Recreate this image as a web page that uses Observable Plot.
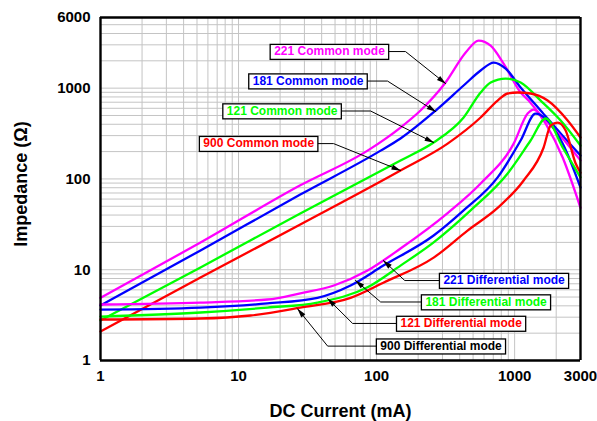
<!DOCTYPE html>
<html><head><meta charset="utf-8">
<script src="https://cdn.jsdelivr.net/npm/d3@7"></script>
<script src="https://cdn.jsdelivr.net/npm/@observablehq/plot@0.6"></script>
<style>body{margin:0;background:#fff;}</style>
</head><body><div id="chart"></div>
<script>
const FONT = "'Liberation Sans', Arial, Helvetica, sans-serif";

// Axis ticks and grid values
const xTicks = [1, 10, 100, 1000, 3000];
const yTicks = [1, 10, 100, 1000, 6000];
const xGrid = [1,2,3,4,5,6,7,8,9,10,20,30,40,50,60,70,80,90,100,200,300,400,500,600,700,800,900,1000,2000,3000];
const yGrid = [1,2,3,4,5,6,7,8,9,10,20,30,40,50,60,70,80,90,100,200,300,400,500,600,700,800,900,1000,2000,3000,4000,5000,6000];

// Common mode curves (x: DC current mA, y: impedance Ω)
const cm221X = [1, 5.3, 28, 86, 149, 208, 316, 442, 548, 670, 832, 1105, 1263, 1679, 2228, 3000];
const cm221Y = [4.9, 19.9, 85, 205, 368, 567, 1153, 2466, 3344, 2944, 1866, 895, 730, 407, 172, 48];
const cm181X = [1, 5.3, 28, 107, 149, 268, 427, 567, 705, 861, 1105, 1543, 2155, 3000];
const cm181Y = [4.03, 16.3, 67.3, 205, 279, 567, 1069, 1563, 1914, 1640, 1016, 567, 316, 181];
const cm121X = [1, 5.3, 28, 149, 259, 427, 567, 670, 861, 1105, 1543, 2155, 3000];
const cm121Y = [2.76, 10.6, 41.6, 160, 252, 475, 895, 1153, 1276, 1153, 730, 440, 233];
const cm900X = [1, 5.3, 28, 149, 327, 567, 753, 890, 1052, 1305, 1734, 2421, 3000];
const cm900Y = [2.09, 8.2, 31.5, 124, 245, 475, 730, 873, 895, 873, 730, 440, 286];

// Differential mode curves
const dm221X = [1, 5.3, 16.2, 28, 49, 86, 149, 327, 567, 984, 1242, 1373, 1596, 2228, 3000];
const dm221Y = [4.14, 4.35, 4.7, 5.5, 6.7, 9.8, 17.1, 42, 89, 245, 525, 581, 475, 279, 160];
const dm181X = [1, 5.3, 16.2, 37.3, 64.8, 112, 259, 427, 753, 1105, 1419, 1679, 2228, 3000];
const dm181Y = [3.64, 3.83, 4.25, 4.9, 6.7, 11.1, 23.8, 45, 104, 265, 525, 463, 245, 80];
const dm121X = [1, 5.3, 16.2, 37.3, 86, 149, 259, 480, 890, 1305, 1679, 2228, 3000];
const dm121Y = [3.05, 3.38, 3.83, 4.35, 6.4, 11.1, 20, 45, 115, 265, 463, 222, 104];
const dm900X = [1, 5.3, 12.2, 28, 64.8, 112, 259, 456, 753, 1162, 1622, 1822, 2050, 2342, 2768, 3000];
const dm900Y = [2.83, 2.9, 3.13, 3.83, 4.9, 7.2, 13.6, 27, 48, 96, 222, 387, 418, 341, 148, 117];

const seriesNames = ["221 Common mode","181 Common mode","121 Common mode","900 Common mode",
                     "221 Differential mode","181 Differential mode","121 Differential mode","900 Differential mode"];
const seriesColors = ["#ff00ff","#0000ff","#00ff00","#ff0000","#ff00ff","#0000ff","#00ff00","#ff0000"];
const seriesX = [cm221X, cm181X, cm121X, cm900X, dm221X, dm181X, dm121X, dm900X];
const seriesY = [cm221Y, cm181Y, cm121Y, cm900Y, dm221Y, dm181Y, dm121Y, dm900Y];

// Annotation labels (callouts), positions in data units
const labelText = seriesNames;
const labelColor = ["#ff00ff","#0000ff","#00ff00","#ff0000","#0000ff","#00ff00","#ff0000","#000000"];
const labelX = [45.6, 31.9, 20.7, 14.0, 839, 621, 410, 293];
const labelY = [2530, 1197, 560, 245, 7.6, 4.41, 2.56, 1.44];
const elbowX = [162, 120, 90.5, 48.8, 160, 107, 67, 44.2];
const tipX = [316, 268, 259, 149, 112, 70.4, 44.2, 26.8];
const tipY = [1124, 552, 252, 124, 12.6, 7.6, 4.8, 3.7];

const curveMarks = seriesNames.map((name, s) => {
  const rows = seriesX[s].map((x, i) => ({x, y: seriesY[s][i]}));
  return Plot.line(rows, {x: "x", y: "y", stroke: seriesColors[s], strokeWidth: 2.3, curve: "monotone-x"});
});

const leaderRows = labelText.flatMap((t, i) => [
  {i, x: labelX[i], y: labelY[i]},
  {i, x: elbowX[i], y: labelY[i]},
  {i, x: tipX[i], y: tipY[i]}
]);

const labelMarks = labelText.map((t, i) => Plot.text([i], {
  x: () => labelX[i], y: () => labelY[i], text: () => t,
  fill: labelColor[i], fontSize: 12, fontWeight: "bold", fontFamily: FONT,
  textAnchor: "middle", lineAnchor: "middle"
}));

const xDom = [xTicks[0], xTicks[xTicks.length - 1]];
const yDom = [yTicks[0], yTicks[yTicks.length - 1]];

const plot = Plot.plot({
  width: 597, height: 421,
  marginLeft: 100, marginRight: 17, marginTop: 17, marginBottom: 61,
  style: {fontFamily: FONT, background: "white", color: "black"},
  x: {type: "log", domain: xDom, axis: null},
  y: {type: "log", domain: yDom, axis: null},
  marks: [
    Plot.gridX({ticks: xGrid, stroke: "#c4c4c4", strokeOpacity: 1, strokeWidth: 1}),
    Plot.gridY({ticks: yGrid, stroke: "#c4c4c4", strokeOpacity: 1, strokeWidth: 1}),
    Plot.text(xTicks, {x: d => d, frameAnchor: "bottom", dy: 16, text: d => String(d), fontSize: 15, fontWeight: "bold", fontFamily: FONT, textAnchor: "middle", lineAnchor: "middle"}),
    Plot.text(yTicks, {y: d => d, frameAnchor: "left", dx: -10, text: d => String(d), fontSize: 15, fontWeight: "bold", fontFamily: FONT, textAnchor: "end", lineAnchor: "middle"}),
    ...curveMarks,
    Plot.line(leaderRows, {x: "x", y: "y", z: "i", stroke: "black", strokeWidth: 1, markerEnd: "arrow"}),
    Plot.ruleX(xDom, {y1: yDom[0], y2: yDom[1], stroke: "black", strokeWidth: 2.4}),
    Plot.ruleY(yDom, {x1: xDom[0], x2: xDom[1], stroke: "black", strokeWidth: 2.4}),
    ...labelMarks,
    Plot.text(["DC Current (mA)"], {frameAnchor: "bottom", dy: 51, text: d => d, fontSize: 18, fontWeight: "bold", fontFamily: FONT, textAnchor: "middle", lineAnchor: "middle"}),
    Plot.text(["Impedance (\u03A9)"], {frameAnchor: "left", dx: -79, dy: -5, rotate: -90, text: d => d, fontSize: 18, fontWeight: "bold", fontFamily: FONT, textAnchor: "middle", lineAnchor: "middle"})
  ]
});

document.getElementById("chart").appendChild(plot);

// Filled arrowheads
plot.querySelectorAll("marker").forEach(m => {
  m.setAttribute("viewBox", "-10 -4 11 8");
  m.setAttribute("markerWidth", 11);
  m.setAttribute("markerHeight", 8);
  m.setAttribute("fill", "black");
  m.setAttribute("stroke", "none");
  const p = m.querySelector("path");
  if (p) p.setAttribute("d", "M-9,-2.6L0.5,0L-9,2.6Z");
});

// Boxes behind callout labels
const labelSet = new Set(labelText);
plot.querySelectorAll("text").forEach(t => {
  if (!labelSet.has(t.textContent)) return;
  const b = t.getBBox();
  const r = document.createElementNS("http://www.w3.org/2000/svg", "rect");
  r.setAttribute("x", b.x - 4);
  r.setAttribute("y", b.y);
  r.setAttribute("width", b.width + 7.5);
  r.setAttribute("height", b.height + 1);
  r.setAttribute("fill", "white");
  r.setAttribute("stroke", "black");
  r.setAttribute("stroke-width", 1.3);
  const tr = t.getAttribute("transform");
  if (tr) r.setAttribute("transform", tr);
  t.parentNode.insertBefore(r, t);
});
</script>
</body></html>
